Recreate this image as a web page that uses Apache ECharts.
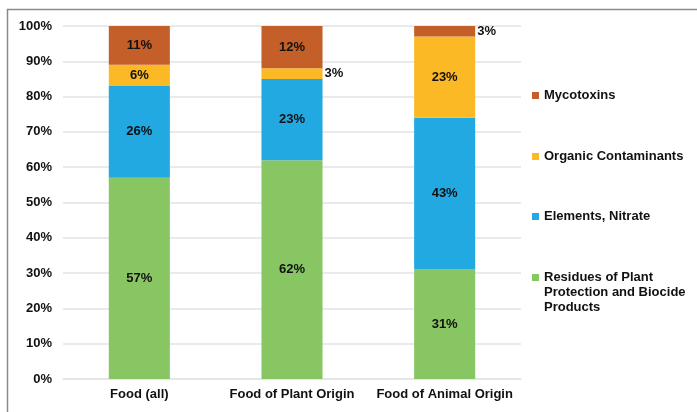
<!DOCTYPE html>
<html>
<head>
<meta charset="utf-8">
<script src="https://cdn.jsdelivr.net/npm/echarts@6/dist/echarts.min.js"></script>
<style>
  html, body { margin: 0; padding: 0; background: #fff; }
  #chart { width: 697px; height: 412px; }
</style>
</head>
<body>
<div id="chart"></div>
<script>
// Share of findings by contaminant group (percent of each food group)
const categories = ['Food (all)', 'Food of Plant Origin', 'Food of Animal Origin'];
const residues = [57, 62, 31];
const elements = [26, 23, 43];
const organic = [6, 3, 23];
const mycotoxins = [11, 12, 3];
const yTicks = [0, 10, 20, 30, 40, 50, 60, 70, 80, 90, 100];

const seriesNames = [
  'Residues of Plant Protection and Biocide Products',
  'Elements, Nitrate',
  'Organic Contaminants',
  'Mycotoxins'
];
const seriesValues = [residues, elements, organic, mycotoxins];
const colors = ['#88C664', '#22A9E1', '#FBBA25', '#C55F29'];

const font = 'Liberation Sans, Arial, sans-serif';
const labelStyle = {
  show: true,
  position: 'inside',
  color: '#111',
  fontFamily: font,
  fontWeight: 'bold',
  fontSize: 13,
  formatter: p => p.value + '%'
};

// Thin segments get their label outside, to the right of the bar
function buildData(values) {
  return values.map(v => {
    if (v <= 3) {
      return { value: v, label: { position: 'right', distance: 2 } };
    }
    return v;
  });
}

const series = seriesNames.map((name, i) => ({
  name: name,
  type: 'bar',
  stack: 'total',
  barWidth: '40%',
  itemStyle: { color: colors[i] },
  label: labelStyle,
  data: buildData(seriesValues[i])
}));

function legendFor(name, top, text) {
  return {
    data: [name],
    orient: 'vertical',
    left: 532,
    top: top,
    padding: 0,
    icon: 'rect',
    itemWidth: 7,
    itemHeight: 7,
    itemGap: 0,
    selectedMode: false,
    formatter: () => text,
    textStyle: {
      fontFamily: font,
      fontWeight: 'bold',
      fontSize: 13,
      color: '#111',
      lineHeight: 15
    }
  };
}

const chart = echarts.init(document.getElementById('chart'));
chart.setOption({
  backgroundColor: '#fff',
  animation: false,
  color: colors,
  grid: { left: 63, right: 176, top: 26, bottom: 33 },
  legend: [
    legendFor('Mycotoxins', 88, 'Mycotoxins'),
    legendFor('Organic Contaminants', 149, 'Organic Contaminants'),
    legendFor('Elements, Nitrate', 209, 'Elements, Nitrate'),
    // two blank lines on top keep the marker beside the first text line
    legendFor(seriesNames[0], 240,
      '\n\nResidues of Plant\nProtection and Biocide\nProducts')
  ],
  graphic: [{
    type: 'rect',
    left: 5, top: 7,
    shape: { width: 760, height: 460 },
    style: { fill: 'none', stroke: '#8a8a8a', lineWidth: 1.5 },
    silent: true
  }],
  xAxis: {
    type: 'category',
    data: categories,
    axisTick: { show: false },
    axisLine: { show: true, lineStyle: { color: '#e1e5e9', width: 1.5 } },
    axisLabel: {
      interval: 0,
      margin: 9,
      color: '#111',
      fontFamily: font,
      fontWeight: 'bold',
      fontSize: 13
    }
  },
  yAxis: {
    type: 'value',
    min: yTicks[0],
    max: yTicks[yTicks.length - 1],
    interval: yTicks[1] - yTicks[0],
    axisLine: { show: false },
    axisTick: { show: false },
    splitLine: { lineStyle: { color: '#e1e5e9', width: 1.5 } },
    axisLabel: {
      margin: 11,
      color: '#111',
      fontFamily: font,
      fontWeight: 'bold',
      fontSize: 13,
      formatter: v => v + '%'
    }
  },
  series: series
});
</script>
</body>
</html>
